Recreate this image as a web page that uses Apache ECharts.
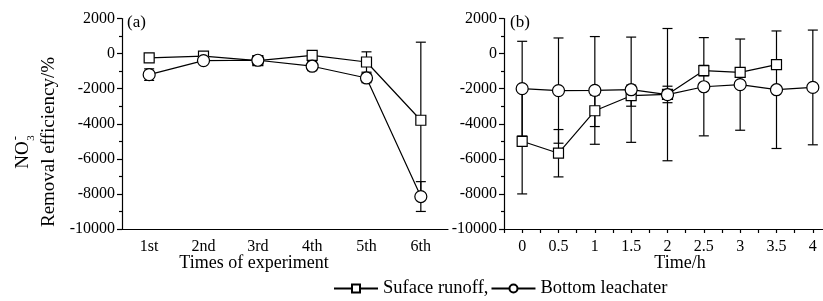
<!DOCTYPE html>
<html>
<head>
<meta charset="utf-8">
<script src="https://cdn.jsdelivr.net/npm/echarts@6/dist/echarts.min.js"></script>
<style>
  html, body { margin: 0; padding: 0; background: #fff; }
  #chart { width: 823px; height: 301px; }
</style>
</head>
<body>
<div id="chart"></div>
<script>
// (a) times of experiment
var catsA = ['1st', '2nd', '3rd', '4th', '5th', '6th']
var runoffA = [-250, -150, -400, -100, -480, -3800]
var runoffAErr = [150, 200, 200, 200, 580, 4450]
var leachA = [-1200, -400, -380, -720, -1390, -8150]
var leachAErr = [330, 150, 200, 250, 270, 850]

// (b) time / h
var timesB = [0, 0.5, 1, 1.5, 2, 2.5, 3, 3.5, 4]
var runoffB = [-5000, -5680, -3260, -2400, -2330, -970, -1070, -630]
var runoffBErr = [3000, 1350, 900, 600, 470, 300, 250, 200]
var leachB = [-2000, -2110, -2100, -2060, -2340, -1890, -1770, -2060, -1930]
var leachBErr = [2700, 3000, 3070, 3000, 3770, 2800, 2600, 3350, 3270]

var yTicks = { min: -10000, max: 2000, interval: 2000 }
var names = ['Suface runoff,', 'Bottom leachater']
var font = 'Liberation Serif'

;(function () {
  var myChart = echarts.init(document.getElementById('chart'))

  function pairs(xs, ys) {
    return ys.map(function (v, i) { return [xs[i], v] })
  }
  function errData(xs, ys, es) {
    return ys.map(function (v, i) { return [xs[i], v - es[i], v + es[i]] })
  }
  var idxA = catsA.map(function (c, i) { return i })

  // 误差线
  function renderErr(params, api) {
    var x = api.value(0)
    var p1 = api.coord([x, api.value(2)])
    var p2 = api.coord([x, api.value(1)])
    var w = 5
    var st = { stroke: '#000', lineWidth: 1.2 }
    return {
      type: 'group',
      children: [
        { type: 'line', shape: { x1: p1[0], y1: p1[1], x2: p2[0], y2: p2[1] }, style: st },
        { type: 'line', shape: { x1: p1[0] - w, y1: p1[1], x2: p1[0] + w, y2: p1[1] }, style: st },
        { type: 'line', shape: { x1: p2[0] - w, y1: p2[1], x2: p2[0] + w, y2: p2[1] }, style: st }
      ]
    }
  }

  function yAxis(gi) {
    return {
      type: 'value',
      gridIndex: gi,
      min: yTicks.min,
      max: yTicks.max,
      interval: yTicks.interval,
      axisLine: { show: true, onZero: false, lineStyle: { color: '#000', width: 1.2 } },
      axisTick: { show: true, length: 5, lineStyle: { color: '#000', width: 1.2 } },
      minorTick: { show: true, splitNumber: 2, length: 3, lineStyle: { color: '#000', width: 1.2 } },
      splitLine: { show: false },
      axisLabel: {
        color: '#000', fontFamily: font, fontSize: 16, margin: 7,
        formatter: function (v) { return String(v) }
      }
    }
  }

  var lineStyle = { color: '#000', width: 1.2 }
  var markItem = { color: '#fff', borderColor: '#000', borderWidth: 1.2 }
  function txt(s, size) {
    return { text: s, font: size + 'px "Liberation Serif"', fill: '#000', align: 'center', verticalAlign: 'middle' }
  }

  var option = {
    animation: false,
    grid: [
      { left: 122, top: 18.5, width: 326, height: 210.5 },
      { left: 504, top: 18.5, width: 319, height: 210.5 }
    ],
    xAxis: [
      {
        type: 'category',
        gridIndex: 0,
        position: 'bottom',
        data: catsA,
        boundaryGap: true,
        axisLine: { onZero: false, lineStyle: { color: '#000', width: 1.2 } },
        axisTick: { alignWithLabel: true, length: 6, lineStyle: { color: '#000', width: 1.2 } },
        axisLabel: { color: '#000', fontFamily: font, fontSize: 16, margin: 10 }
      },
      {
        // 次刻度
        type: 'category',
        gridIndex: 0,
        position: 'bottom',
        data: catsA,
        boundaryGap: true,
        axisLine: { show: false, onZero: false },
        axisTick: { alignWithLabel: false, interval: 0, length: 3, lineStyle: { color: '#000', width: 1.2 } },
        axisLabel: { show: false }
      },
      {
        type: 'value',
        gridIndex: 1,
        min: -0.25,
        max: 4.14,
        interval: 0.25,
        splitLine: { show: false },
        axisLine: { onZero: false, lineStyle: { color: '#000', width: 1.2 } },
        axisTick: { length: 4, lineStyle: { color: '#000', width: 1.2 } },
        axisLabel: {
          color: '#000',
          fontFamily: font,
          fontSize: 16,
          margin: 10,
          showMaxLabel: false,
          formatter: function (v) {
            var d = v * 2
            if (v < 0 || v > 4 || Math.abs(d - Math.round(d)) > 1e-6) return ''
            return String(Math.round(v * 100) / 100)
          }
        }
      }
    ],
    yAxis: [yAxis(0), yAxis(1)],
    legend: {
      data: names,
      left: 328,
      top: 274,
      itemWidth: 44,
      itemHeight: 10,
      itemGap: 2,
      textStyle: { color: '#000', fontFamily: font, fontSize: 18.5 }
    },
    graphic: [
      { type: 'text', left: 127, top: 14, style: { text: '(a)', font: '17px "Liberation Serif"', fill: '#000' } },
      { type: 'text', left: 510, top: 14, style: { text: '(b)', font: '17px "Liberation Serif"', fill: '#000' } },
      { type: 'text', x: 254, y: 263, style: txt('Times of experiment', 18) },
      { type: 'text', x: 680, y: 263, style: txt('Time/h', 18) },
      { type: 'text', x: 49, y: 142, rotation: Math.PI / 2, style: txt('Removal efficiency/%', 19) },
      { type: 'text', x: 23, y: 155, rotation: Math.PI / 2, style: txt('NO', 19) },
      { type: 'text', x: 31, y: 138, rotation: Math.PI / 2, style: txt('3', 11) },
      { type: 'text', x: 16, y: 138, rotation: Math.PI / 2, style: txt('-', 13) }
    ],
    series: [
      {
        type: 'custom', xAxisIndex: 0, yAxisIndex: 0, z: 1,
        renderItem: renderErr, encode: { x: 0, y: [1, 2] },
        data: errData(idxA, runoffA, runoffAErr)
      },
      {
        type: 'custom', xAxisIndex: 0, yAxisIndex: 0, z: 1,
        renderItem: renderErr, encode: { x: 0, y: [1, 2] },
        data: errData(idxA, leachA, leachAErr)
      },
      {
        type: 'custom', xAxisIndex: 2, yAxisIndex: 1, z: 1,
        renderItem: renderErr, encode: { x: 0, y: [1, 2] },
        data: errData(timesB, runoffB, runoffBErr)
      },
      {
        type: 'custom', xAxisIndex: 2, yAxisIndex: 1, z: 1,
        renderItem: renderErr, encode: { x: 0, y: [1, 2] },
        data: errData(timesB, leachB, leachBErr)
      },
      {
        name: names[0], type: 'line', xAxisIndex: 0, yAxisIndex: 0, z: 3,
        data: runoffA, symbol: 'rect', symbolSize: 10,
        lineStyle: lineStyle, itemStyle: markItem
      },
      {
        name: names[1], type: 'line', xAxisIndex: 0, yAxisIndex: 0, z: 3,
        data: leachA, symbol: 'circle', symbolSize: 12,
        lineStyle: lineStyle, itemStyle: markItem
      },
      {
        name: names[0], type: 'line', xAxisIndex: 2, yAxisIndex: 1, z: 3,
        data: pairs(timesB, runoffB), symbol: 'rect', symbolSize: 10,
        lineStyle: lineStyle, itemStyle: markItem
      },
      {
        name: names[1], type: 'line', xAxisIndex: 2, yAxisIndex: 1, z: 3,
        data: pairs(timesB, leachB), symbol: 'circle', symbolSize: 12,
        lineStyle: lineStyle, itemStyle: markItem
      }
    ]
  }

  myChart.setOption(option)
  window.addEventListener('resize', function () {
    myChart.resize()
  })
})()
</script>
</body>
</html>
